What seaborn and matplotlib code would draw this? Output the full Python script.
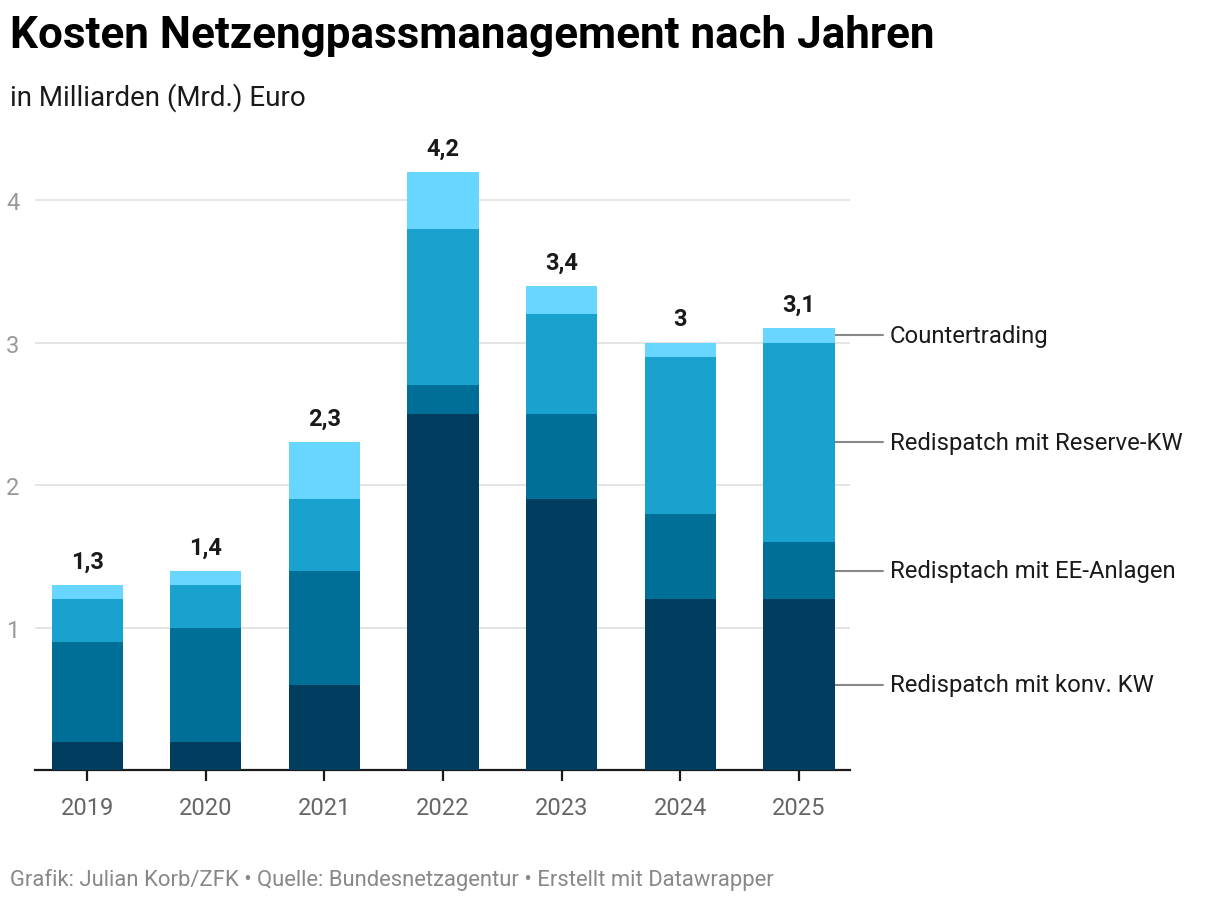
import matplotlib
matplotlib.use("Agg")
import matplotlib.pyplot as plt
import seaborn as sns
import pandas as pd

years = ["2019", "2020", "2021", "2022", "2023", "2024", "2025"]
konv = [0.2, 0.2, 0.6, 2.5, 1.9, 1.2, 1.2]
ee = [0.7, 0.8, 0.8, 0.2, 0.6, 0.6, 0.4]
reserve = [0.3, 0.3, 0.5, 1.1, 0.7, 1.1, 1.4]
counter = [0.1, 0.1, 0.4, 0.4, 0.2, 0.1, 0.1]
totals = ["1,3", "1,4", "2,3", "4,2", "3,4", "3", "3,1"]

series = ["Redispatch mit konv. KW", "Redisptach mit EE-Anlagen",
          "Redispatch mit Reserve-KW", "Countertrading"]
colors = ["#003d5f", "#006f98", "#1aa2cf", "#68d6ff"]

sns.set_theme(style="white")
plt.rcParams["font.family"] = ["Roboto", "DejaVu Sans"]

df = pd.DataFrame({"Jahr": years, series[0]: konv, series[1]: ee,
                   series[2]: reserve, series[3]: counter})

fig = plt.figure(figsize=(12.2, 9.04), dpi=100)
ax = fig.add_axes([0.0287, 0.1471, 0.6680, 0.6936])

# stacked: draw cumulative sums, tallest first
cum = df[series].cumsum(axis=1)
for s, c in reversed(list(zip(series, colors))):
    sns.barplot(x=df["Jahr"], y=cum[s], color=c, ax=ax, width=0.6,
                saturation=1, linewidth=0, zorder=3)

ax.set_xlim(-0.44, 6.43)
ax.set_ylim(0, 4.4)
ax.set_yticks([1, 2, 3, 4])
ax.set_yticklabels(["1", "2", "3", "4"])
ax.yaxis.grid(True, color="#e0e0e0", linewidth=1.2, zorder=0)
ax.set_axisbelow(True)
ax.set_xlabel("")
ax.set_ylabel("")
for sp in ["top", "right", "left"]:
    ax.spines[sp].set_visible(False)
ax.spines["bottom"].set_color("#1a1a1a")
ax.spines["bottom"].set_linewidth(1.6)
ax.tick_params(axis="x", bottom=True, length=8, width=1.6, color="#1a1a1a",
               labelsize=17, labelcolor="#666666", pad=11)
ax.tick_params(axis="y", left=False, labelsize=17, labelcolor="#999999", pad=0)
for lbl in ax.get_yticklabels():
    lbl.set_horizontalalignment("left")
    lbl.set_x(-0.025)

tot = cum[series[-1]].values
for i, t in enumerate(totals):
    ax.annotate(t, (i, tot[i]), xytext=(0, 17), textcoords="offset points",
                ha="center", va="center", fontsize=17, fontweight="bold",
                color="#1a1a1a")

# labels at the right of the last bar
last = len(years) - 1
prev = 0
for s in series:
    top = cum[s].values[last]
    mid = (prev + top) / 2
    prev = top
    ax.plot([last + 0.3, last + 0.706], [mid, mid], color="#888888",
            linewidth=1.5, clip_on=False)
    ax.text(last + 0.765, mid, s, ha="left", va="center", fontsize=17.2,
            color="#1a1a1a", clip_on=False)

fig.text(0.008, 0.96, "Kosten Netzengpassmanagement nach Jahren",
         fontsize=31.7, fontweight="bold", color="#000000", va="center")
fig.text(0.008, 0.892, "in Milliarden (Mrd.) Euro", fontsize=20,
         color="#1a1a1a", va="center")
fig.text(0.008, 0.026,
         "Grafik: Julian Korb/ZFK • Quelle: Bundesnetzagentur • Erstellt mit Datawrapper",
         fontsize=15.8, color="#888888", va="center")

fig.savefig("out.png", dpi=100)
